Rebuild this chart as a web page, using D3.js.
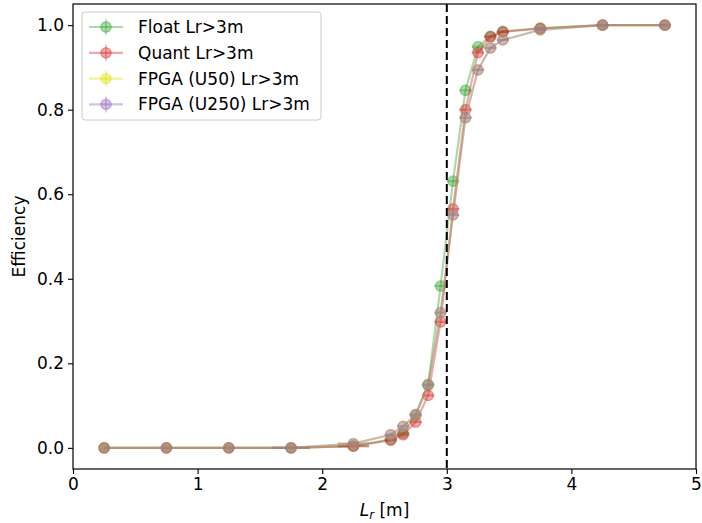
<!DOCTYPE html>
<html>
<head>
<meta charset="utf-8">
<script src="https://cdn.jsdelivr.net/npm/d3@7"></script>
<style>
  html, body { margin: 0; padding: 0; background: #fff; }
  svg { display: block; font-family: "DejaVu Sans", sans-serif; }
</style>
</head>
<body>
<svg id="chart" width="702" height="523"></svg>
<script>
// Bin centres of the reconstructed length L_r [m]
const lrBins = [0.25, 0.75, 1.25, 1.75, 2.25, 2.55, 2.65, 2.75, 2.85, 2.95, 3.05, 3.15, 3.25, 3.35, 3.45, 3.75, 4.25, 4.75];
// Horizontal error bar half widths per bin
const lrHalfWidth = [0, 0, 0, 0.15, 0.125, 0.05, 0.05, 0.05, 0.05, 0.05, 0.05, 0.05, 0.05, 0.05, 0.05, 0.05, 0.05, 0.05];

// Efficiency per bin for each implementation
const effFloat = [0.0, 0.0, 0.0, 0.0, 0.004, 0.02, 0.035, 0.077, 0.148, 0.383, 0.631, 0.846, 0.949, 0.974, 0.985, 0.993, 1.0, 1.0];
const effQuant = [0.0, 0.0, 0.0, 0.0, 0.004, 0.018, 0.031, 0.061, 0.124, 0.298, 0.565, 0.80, 0.935, 0.972, 0.984, 0.992, 1.0, 1.0];
const effU50   = [0.0, 0.0, 0.0, 0.0, 0.010, 0.031, 0.051, 0.079, 0.150, 0.320, 0.551, 0.781, 0.894, 0.946, 0.965, 0.989, 1.0, 1.0];
const effU250  = [0.0, 0.0, 0.0, 0.0, 0.010, 0.031, 0.051, 0.079, 0.150, 0.320, 0.551, 0.781, 0.894, 0.946, 0.965, 0.989, 1.0, 1.0];

const seriesNames = ["Float Lr>3m", "Quant Lr>3m", "FPGA (U50) Lr>3m", "FPGA (U250) Lr>3m"];
const seriesColors = ["#2ca02c", "#d62728", "#dede00", "#9467bd"];

const xTicks = [0, 1, 2, 3, 4, 5];
const yTicks = [0.0, 0.2, 0.4, 0.6, 0.8, 1.0];
const cutValue = 3;

const series = [effFloat, effQuant, effU50, effU250].map((vals, i) => ({
  name: seriesNames[i],
  color: seriesColors[i],
  points: lrBins.map((x, j) => ({ x, y: vals[j], xe: lrHalfWidth[j] }))
}));

const svg = d3.select("#chart");
const margin = { left: 73, right: 6, top: 4, bottom: 54 };
const W = 702, H = 523;
const fs = 17;

const x = d3.scaleLinear().domain([0, 5]).range([margin.left, W - margin.right]);
const y = d3.scaleLinear().domain([-0.05, 1.05]).range([H - margin.bottom, margin.top]);

const alpha = 0.4;

// Marker: translucent face plus a translucent edge ring of the same colour
function marker(sel, color) {
  sel.attr("r", 5.2)
    .attr("fill", color).attr("fill-opacity", alpha)
    .attr("stroke", color).attr("stroke-opacity", alpha).attr("stroke-width", 1.4);
}

// Series: line, x error bars, markers
const plot = svg.append("g");
const line = d3.line().x(d => x(d.x)).y(d => y(d.y));
series.forEach(s => {
  const g = plot.append("g");
  g.append("path")
    .datum(s.points)
    .attr("d", line)
    .attr("fill", "none")
    .attr("stroke", s.color)
    .attr("stroke-width", 2.2)
    .attr("stroke-opacity", alpha);
  g.selectAll("line.xerr")
    .data(s.points.filter(d => d.xe > 0))
    .join("line")
    .attr("class", "xerr")
    .attr("x1", d => x(d.x - d.xe))
    .attr("x2", d => x(d.x + d.xe))
    .attr("y1", d => y(d.y))
    .attr("y2", d => y(d.y))
    .attr("stroke", s.color)
    .attr("stroke-width", 2.2)
    .attr("stroke-opacity", alpha);
  g.selectAll("circle")
    .data(s.points)
    .join("circle")
    .attr("cx", d => x(d.x))
    .attr("cy", d => y(d.y))
    .call(marker, s.color);
});

// Vertical dashed cut line
svg.append("line")
  .attr("x1", x(cutValue)).attr("x2", x(cutValue))
  .attr("y1", y(1.05)).attr("y2", y(-0.05))
  .attr("stroke", "#000")
  .attr("stroke-width", 2)
  .attr("stroke-dasharray", "8,4");

// Axes
const xAxis = d3.axisBottom(x).tickValues(xTicks).tickFormat(d3.format("d")).tickSize(5).tickPadding(4);
const yAxis = d3.axisLeft(y).tickValues(yTicks).tickFormat(d3.format(".1f")).tickSize(5).tickPadding(4);

const gx = svg.append("g").attr("transform", `translate(0,${H - margin.bottom})`).call(xAxis);
const gy = svg.append("g").attr("transform", `translate(${margin.left},0)`).call(yAxis);
[gx, gy].forEach(g => {
  g.select(".domain").remove();
  g.selectAll(".tick line").attr("stroke", "#000").attr("stroke-width", 1.1);
  g.selectAll(".tick text").attr("font-size", fs).attr("fill", "#000")
    .attr("font-family", "DejaVu Sans, sans-serif");
});

// Frame
svg.append("rect")
  .attr("x", margin.left).attr("y", margin.top)
  .attr("width", W - margin.left - margin.right)
  .attr("height", H - margin.top - margin.bottom)
  .attr("fill", "none").attr("stroke", "#000").attr("stroke-width", 1.2);

// Axis labels
const xl = svg.append("text")
  .attr("x", x(2.5)).attr("y", 516)
  .attr("text-anchor", "middle").attr("font-size", fs).attr("fill", "#000");
xl.append("tspan").attr("font-style", "italic").text("L");
xl.append("tspan").attr("font-style", "italic").attr("font-size", fs * 0.7).attr("dy", 3).text("r");
xl.append("tspan").attr("dy", -3).text(" [m]");

svg.append("text")
  .attr("transform", `translate(25,${y(0.5)}) rotate(-90)`)
  .attr("text-anchor", "middle").attr("font-size", fs).attr("fill", "#000")
  .text("Efficiency");

// Legend
const lg = svg.append("g").attr("transform", "translate(82,12)");
lg.append("rect")
  .attr("x", 0).attr("y", 0).attr("width", 239).attr("height", 108)
  .attr("rx", 3).attr("fill", "#fff").attr("fill-opacity", 0.8)
  .attr("stroke", "#cccccc").attr("stroke-width", 1);
series.forEach((s, i) => {
  const cy = 15 + i * 25.8;
  const row = lg.append("g");
  row.append("line").attr("x1", 7).attr("x2", 41).attr("y1", cy).attr("y2", cy)
    .attr("stroke", s.color).attr("stroke-width", 2.2).attr("stroke-opacity", alpha);
  row.append("line").attr("x1", 24).attr("x2", 24).attr("y1", cy - 8).attr("y2", cy + 8)
    .attr("stroke", s.color).attr("stroke-width", 1.5).attr("stroke-opacity", alpha);
  row.append("circle").attr("cx", 24).attr("cy", cy).call(marker, s.color);
  row.append("text").attr("x", 56).attr("y", cy + 6)
    .attr("font-size", fs).attr("fill", "#000").text(s.name);
});
</script>
</body>
</html>
